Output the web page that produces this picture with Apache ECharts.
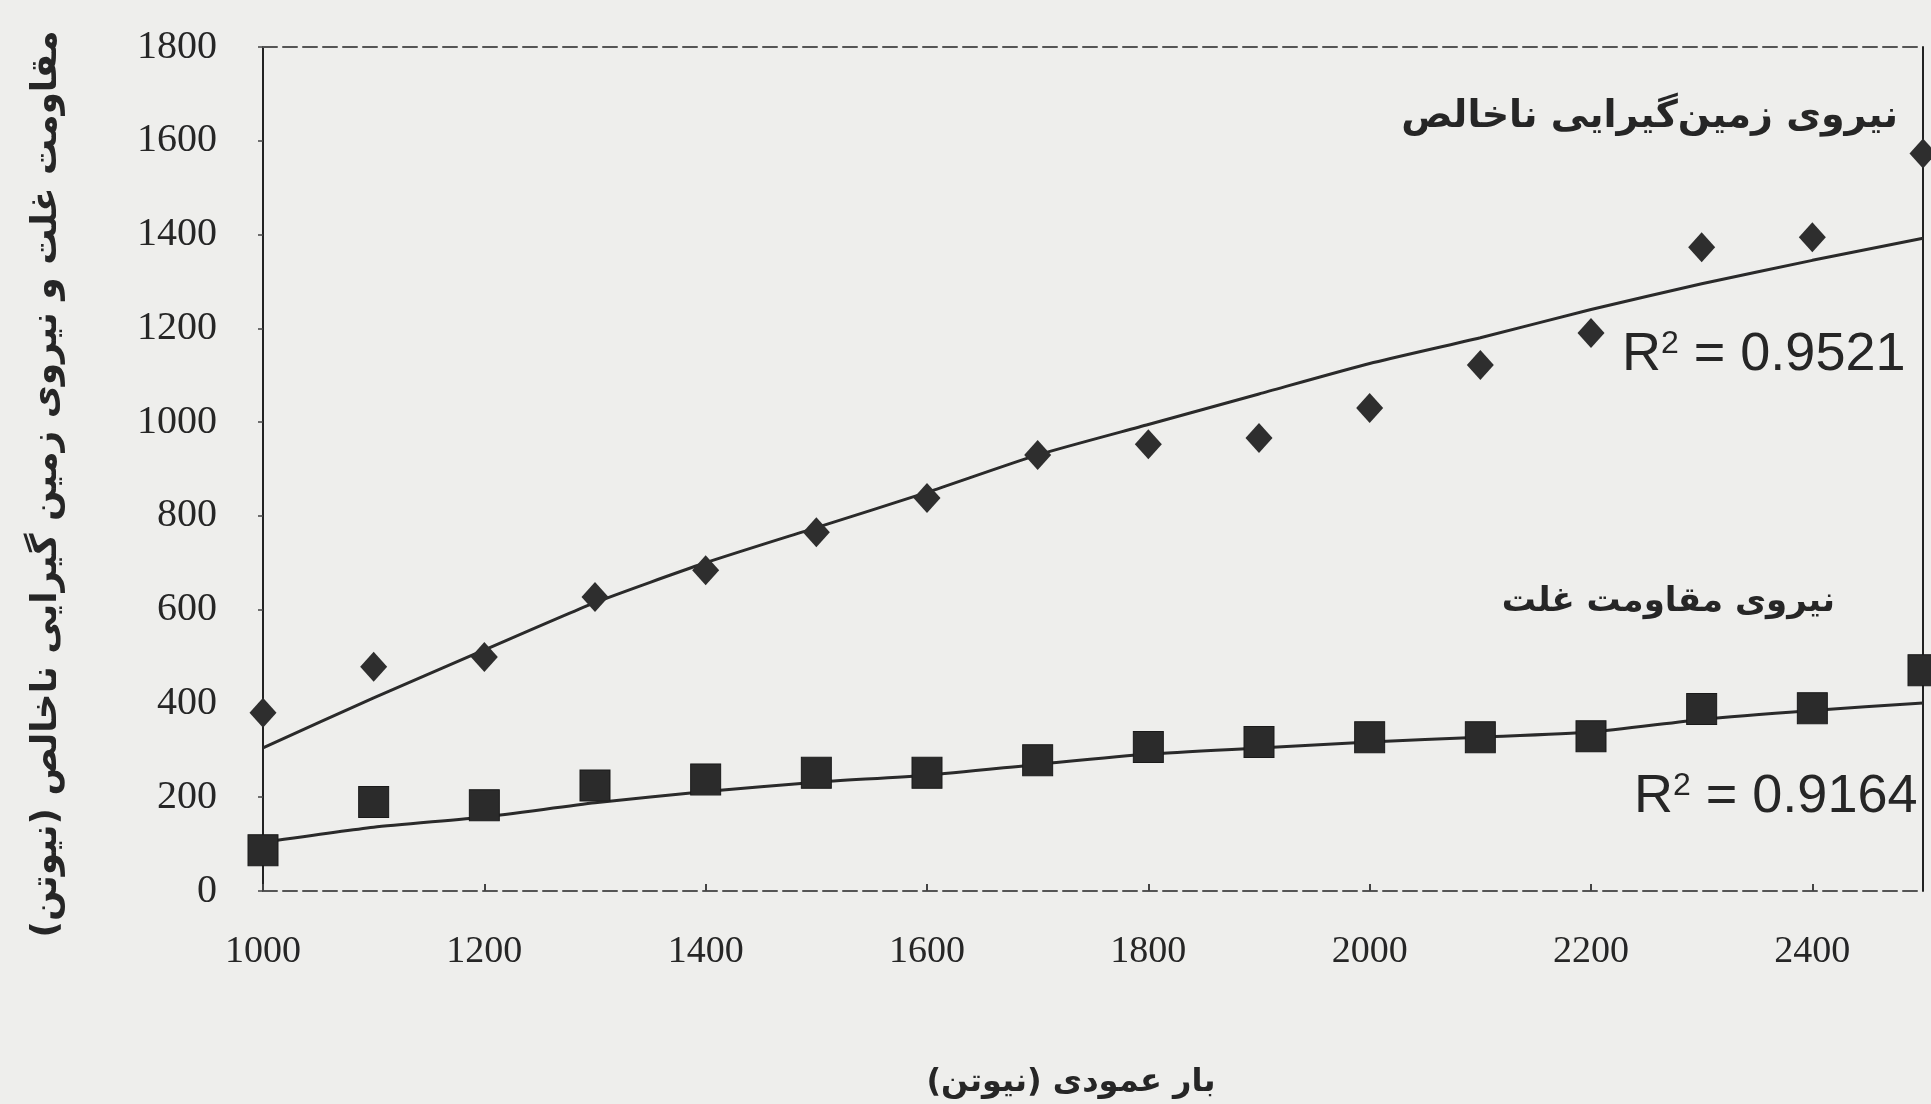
<!DOCTYPE html>
<html>
<head>
<meta charset="utf-8">
<script src="https://cdn.jsdelivr.net/npm/echarts@6/dist/echarts.min.js"></script>
<style>
html,body{margin:0;padding:0;background:#eeeeec;}
#chart{width:1931px;height:1104px;}
</style>
</head>
<body>
<div id="chart"></div>
<script>
// Vertical load (N)
const loads = [1000, 1100, 1200, 1300, 1400, 1500, 1600, 1700, 1800, 1900, 2000, 2100, 2200, 2300, 2400, 2500];
// Gross traction force (N) – diamonds
const grossTraction = [380, 478, 499, 627, 684, 765, 838, 930, 953, 966, 1030, 1122, 1190, 1373, 1394, 1573];
// Rolling resistance (N) – squares
const rollingResistance = [87, 190, 183, 225, 238, 252, 252, 279, 307, 318, 328, 328, 330, 388, 390, 471];
// Trend lines
const grossTrend = [305, 412, 514, 615, 700, 775, 850, 930, 995, 1060, 1125, 1180, 1240, 1295, 1345, 1392];
const rollingTrend = [104, 136, 158, 188, 212, 232, 247, 270, 292, 305, 318, 328, 339, 366, 385, 401];
// Tick labels
const xTicks = [1000, 1200, 1400, 1600, 1800, 2000, 2200, 2400];
const yTicks = [0, 200, 400, 600, 800, 1000, 1200, 1400, 1600, 1800];

const labelGross = 'نیروی زمین\u200cگیرایی ناخالص';
const labelRolling = 'نیروی مقاومت غلت';
const r2Gross = 'R{s|2} = 0.9521';
const r2Rolling = 'R{s|2} = 0.9164';
const xName = 'بار عمودی (نیوتن)';
const yName = 'مقاومت غلت و نیروی زمین گیرایی ناخالص (نیوتن)';

const pair = (xs, ys) => xs.map((x, i) => [x, ys[i]]);
const ink = '#262626';

const chart = echarts.init(document.getElementById('chart'), null, {renderer: 'canvas'});
const option = {
  backgroundColor: '#eeeeec',
  animation: false,
  grid: {left: 263, right: 8, top: 47, bottom: 213, containLabel: false},
  xAxis: [{
    type: 'value',
    min: xTicks[0],
    max: 2500,
    interval: xTicks[1] - xTicks[0],
    name: xName,
    nameLocation: 'middle',
    nameGap: 176,
    nameTextStyle: {fontFamily: 'DejaVu Sans', fontWeight: 'bold', fontSize: 32, color: ink, padding: [0, 44, 0, 0]},
    axisLine: {show: true, onZero: false, lineStyle: {color: '#555', width: 2, type: [14, 6]}},
    axisTick: {show: true, inside: true, length: 7, lineStyle: {color: '#444', width: 2}},
    axisLabel: {
      show: true, margin: 42, showMaxLabel: false,
      fontFamily: 'Liberation Serif', fontSize: 38, color: ink,
      formatter: v => xTicks.includes(v) ? String(v) : ''
    },
    splitLine: {show: false}
  }, {
    type: 'value', position: 'top', min: 1000, max: 2500,
    axisLine: {show: true, onZero: false, lineStyle: {color: '#555', width: 2, type: [14, 6]}},
    axisTick: {show: false}, axisLabel: {show: false}, splitLine: {show: false}
  }],
  yAxis: [{
    type: 'value',
    min: yTicks[0],
    max: yTicks[yTicks.length - 1],
    interval: yTicks[1] - yTicks[0],
    name: yName,
    nameLocation: 'middle',
    nameRotate: 90,
    nameGap: 198,
    nameTextStyle: {fontFamily: 'DejaVu Sans', fontWeight: 'bold', fontSize: 36, color: ink, padding: [0, 30, 0, 0]},
    axisLine: {show: true, onZero: false, lineStyle: {color: '#222', width: 2}},
    axisTick: {show: true, length: 5, lineStyle: {color: '#444', width: 1.5}},
    axisLabel: {margin: 46, fontFamily: 'Liberation Serif', fontSize: 40, color: ink,
      formatter: v => String(v)},
    splitLine: {show: false}
  }, {
    type: 'value', position: 'right', min: 0, max: 1800,
    axisLine: {show: true, onZero: false, lineStyle: {color: '#222', width: 2}},
    axisTick: {show: false}, axisLabel: {show: false}, splitLine: {show: false}
  }],
  series: [
    {
      name: 'gross trend', type: 'line', data: pair(loads, grossTrend),
      showSymbol: false, symbol: 'none', smooth: 0.2,
      lineStyle: {color: '#2a2a2a', width: 3}, z: 2
    },
    {
      name: 'rolling trend', type: 'line', data: pair(loads, rollingTrend),
      showSymbol: false, symbol: 'none', smooth: 0.2,
      lineStyle: {color: '#2a2a2a', width: 3}, z: 2
    },
    {
      name: labelGross, type: 'scatter', data: pair(loads, grossTraction),
      symbol: 'diamond', symbolSize: [27, 30],
      itemStyle: {color: '#2e2e2e', opacity: 1}, z: 3
    },
    {
      name: labelRolling, type: 'scatter', data: pair(loads, rollingResistance),
      symbol: 'rect', symbolSize: [30, 31],
      itemStyle: {color: '#2b2b2b', borderColor: '#1a1a1a', borderWidth: 1, opacity: 1}, z: 3
    }
  ],
  graphic: [
    {type: 'text', right: 1931 - 1898, top: 98, z: 10,
     style: {text: labelGross, fontFamily: 'DejaVu Sans', fontWeight: 'bold', fontSize: 38, fill: ink}},
    {type: 'text', right: 1931 - 1835, top: 585, z: 10,
     style: {text: labelRolling, fontFamily: 'DejaVu Sans', fontWeight: 'bold', fontSize: 34, fill: ink}},
    {type: 'text', left: 1622, top: 328, z: 10,
     style: {text: r2Gross, fontFamily: 'Liberation Sans', fontSize: 54, fill: ink,
       rich: {s: {fontFamily: 'Liberation Sans', fontSize: 32, verticalAlign: 'top', fill: ink, padding: [0, 0, 22, 0]}}}},
    {type: 'text', left: 1634, top: 770, z: 10,
     style: {text: r2Rolling, fontFamily: 'Liberation Sans', fontSize: 54, fill: ink,
       rich: {s: {fontFamily: 'Liberation Sans', fontSize: 32, verticalAlign: 'top', fill: ink, padding: [0, 0, 22, 0]}}}}
  ]
};
chart.setOption(option);
</script>
</body>
</html>
